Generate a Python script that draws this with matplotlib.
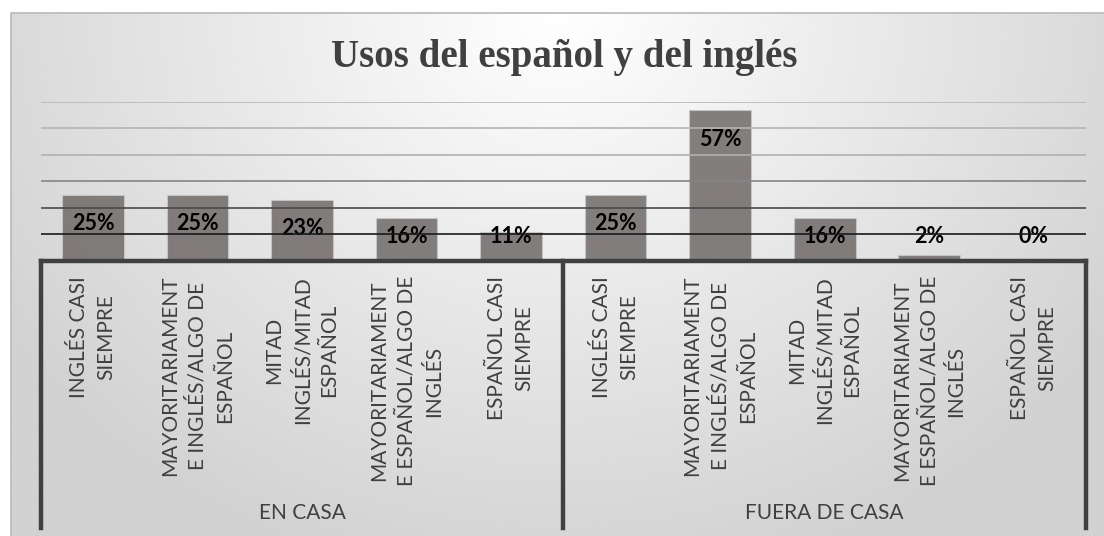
import matplotlib
matplotlib.use("Agg")
import matplotlib.pyplot as plt
from matplotlib.lines import Line2D
import numpy as np

W, H = 1104, 536

categories = [
    "INGLÉS CASI\nSIEMPRE",
    "MAYORITARIAMENT\nE INGLÉS/ALGO DE\nESPAÑOL",
    "MITAD\nINGLÉS/MITAD\nESPAÑOL",
    "MAYORITARIAMENT\nE ESPAÑOL/ALGO DE\nINGLÉS",
    "ESPAÑOL CASI\nSIEMPRE",
]
groups = ["EN CASA", "FUERA DE CASA"]
en_casa = [25, 25, 23, 16, 11]
fuera_de_casa = [25, 57, 16, 2, 0]
grid_levels = [10, 20, 30, 40, 50, 60]
grid_colors = ["#1a1a1a", "#4a4a4a", "#858585", "#b0b0b0", "#b4b4b4", "#b8b8b8"]

TXT = "#404040"


def fx(px):
    return px / W


def fy(py):
    return 1 - py / H


fig = plt.figure(figsize=(W / 100, H / 100), dpi=100)
fig.patch.set_facecolor("white")

# background box with soft radial gradient
bg = fig.add_axes([fx(11), 0, 1 - fx(11), fy(12.5)])
bg.set_axis_off()
gx, gy = np.meshgrid(np.linspace(0, 1, 400), np.linspace(0, 1, 200))
d = np.sqrt(((gx - 0.5) / 0.55) ** 2 + ((gy - 0.0) / 1.0) ** 2)
shade = 1 - 0.16 * np.clip(d, 0, 1.1)
bg.imshow(shade, cmap="gray", vmin=0, vmax=1, aspect="auto",
          extent=[0, 1, 1, 0], interpolation="bicubic")
fig.add_artist(Line2D([fx(11), fx(11), 1], [0, fy(12.5), fy(12.5)],
                      transform=fig.transFigure, color="#bdbdbd", lw=1.3))

# plot area
left, right, base, top = 40.7, 1086, 260.7, 102
ax = fig.add_axes([fx(left), fy(base), fx(right - left), (base - top) / H])
ax.set_facecolor("none")
for s in ax.spines.values():
    s.set_visible(False)
ax.set_xticks([])
ax.set_yticks([])

values = en_casa + fuera_de_casa
x = np.arange(len(values))
ax.set_xlim(-0.5, len(values) - 0.5)
ax.set_ylim(0, 60)

for lvl, c in zip(grid_levels, grid_colors):
    ax.axhline(lvl, color=c, lw=1.2, zorder=3)

ax.bar(x, values, width=0.59, color="#6f6a68", alpha=0.85,
       edgecolor="#c8c8c8", linewidth=0.8, zorder=2)

for xi, v in zip(x, values):
    ax.text(xi, max(v - 11.0, 9.1), f"{v}%", ha="center", va="center",
            fontsize=15.5, fontweight="bold", family=["Lato", "DejaVu Sans"],
            color="black", zorder=2.5)

# category labels (two-level axis)
tr = ax.get_xaxis_transform()
ah = base - top
for gi, g in enumerate(groups):
    for ci, cat in enumerate(categories):
        ax.text(gi * len(categories) + ci, -(276 - base) / ah, cat,
                transform=tr, rotation=90, ha="center", va="top",
                multialignment="center", fontsize=15,
                family=["Lato", "DejaVu Sans"], color=TXT, linespacing=1.45)
    ax.text(gi * len(categories) + (len(categories) - 1) / 2,
            -(513 - base) / ah, g, transform=tr, ha="center", va="center",
            fontsize=15, family=["Lato", "DejaVu Sans"], color=TXT)

# axis frame
mid = (left + right) / 2
frame_kw = dict(transform=fig.transFigure, color="#404040", lw=3.2,
                solid_capstyle="projecting")
fig.add_artist(Line2D([fx(left), fx(right)], [fy(base), fy(base)], **frame_kw))
for px in (left, mid, right):
    fig.add_artist(Line2D([fx(px), fx(px)], [fy(base), fy(528)], **frame_kw))

fig.text(fx(564), fy(57), "Usos del español y del inglés", ha="center",
         va="center", fontsize=28, fontweight="bold",
         family=["Liberation Serif", "DejaVu Serif"], color=TXT)

fig.savefig("out.png", dpi=100)
